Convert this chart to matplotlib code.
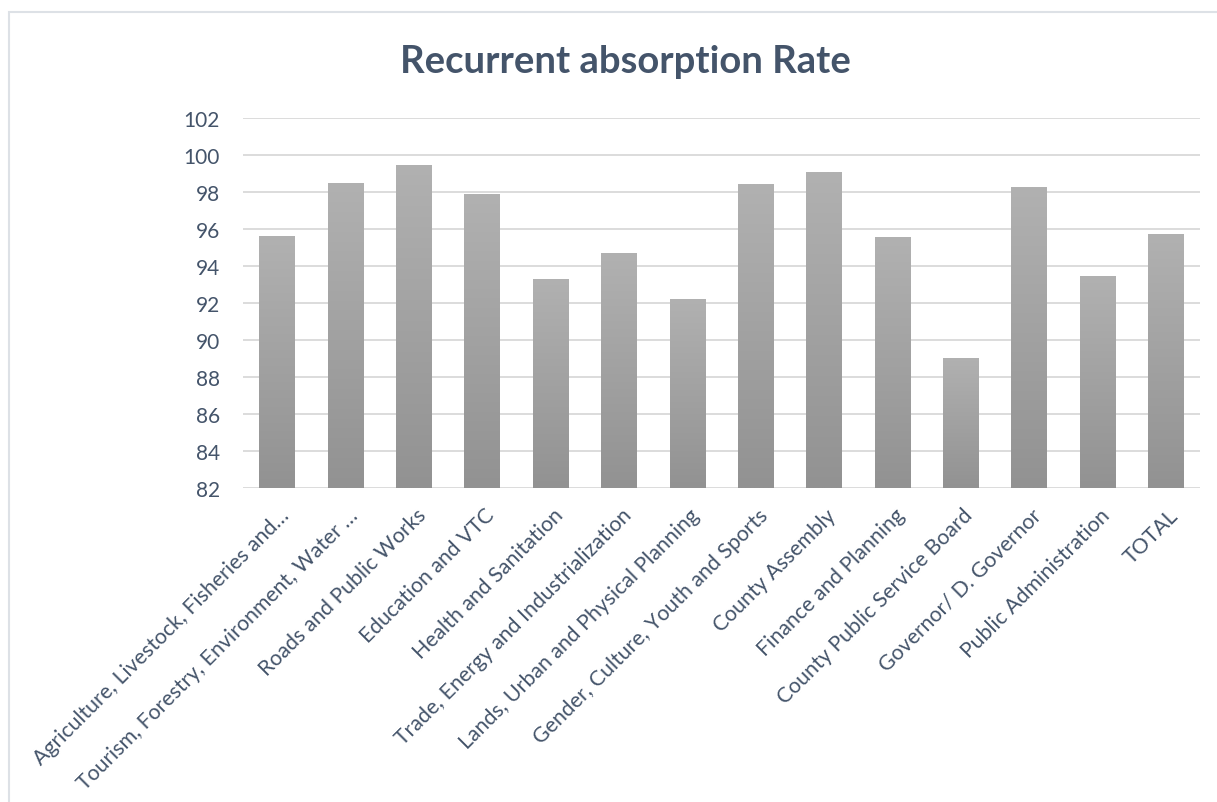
import matplotlib
matplotlib.use("Agg")
import matplotlib.pyplot as plt
import matplotlib.transforms as mtransforms
import numpy as np
from matplotlib.patches import Rectangle
from matplotlib.colors import LinearSegmentedColormap

categories = [
    "Agriculture, Livestock, Fisheries and…",
    "Tourism, Forestry, Environment, Water …",
    "Roads and Public Works",
    "Education and VTC",
    "Health and Sanitation",
    "Trade, Energy and Industrialization",
    "Lands, Urban and Physical Planning",
    "Gender, Culture, Youth and Sports",
    "County Assembly",
    "Finance and Planning",
    "County Public Service Board",
    "Governor/ D. Governor",
    "Public Administration",
    "TOTAL",
]
values = [95.62, 98.49, 99.46, 97.89, 93.30, 94.70, 92.24, 98.42, 99.07, 95.55, 89.05, 98.26, 93.44, 95.71]
yticks = [82, 84, 86, 88, 90, 92, 94, 96, 98, 100, 102]

text_color = "#44546A"
plt.rcParams['font.family'] = ['Lato', 'DejaVu Sans']

fig = plt.figure(figsize=(12.17, 8.03), dpi=100)
fig.patch.set_facecolor("white")
fig.add_artist(Rectangle((9 / 1217, -0.02), 1.1, 1 - 13 / 803 + 0.02, transform=fig.transFigure,
                         fill=False, edgecolor="#DDE1E6", linewidth=1.5))

ax = fig.add_axes([243 / 1217, 1 - 489 / 803, 957 / 1217, 370 / 803])
x = np.arange(len(categories))
bars = ax.bar(x, values, width=0.52, bottom=0, color="#A5A5A5", zorder=2)

grad = np.linspace(0, 1, 256).reshape(-1, 1)
cmap = LinearSegmentedColormap.from_list("g", ["#929292", "#B1B1B1"])
for b, v in zip(bars, values):
    x0 = b.get_x()
    w = b.get_width()
    im = ax.imshow(grad, extent=(x0, x0 + w, 82, v), origin="lower", aspect="auto",
                   cmap=cmap, zorder=3, interpolation="bilinear")
    im.set_clip_path(b)
ax.set_aspect("auto")
ax.set_xlim(-0.5, len(categories) - 0.5)
ax.set_ylim(82, 102)

ax.set_yticks(yticks)
ax.set_yticklabels([str(t) for t in yticks], fontsize=15, color=text_color)
ax.set_xticks(x)
ax.set_xticklabels(categories, rotation=45, ha="right", rotation_mode="anchor",
                   fontsize=15.3, color=text_color)
ax.tick_params(axis="both", length=0)
ax.tick_params(axis="y", pad=16.5)
ax.tick_params(axis="x", pad=12)
offset = mtransforms.ScaledTranslation(2 / 100, 0, fig.dpi_scale_trans)
for lab in ax.get_xticklabels():
    lab.set_transform(lab.get_transform() + offset)
ax.grid(axis="y", color="#D9D9D9", linewidth=1.3, zorder=0)
ax.set_axisbelow(True)
for s in ["top", "right", "left", "bottom"]:
    ax.spines[s].set_visible(False)

fig.text(625 / 1217, 1 - 73 / 803, "Recurrent absorption Rate", ha="center", va="baseline",
         fontsize=27.5, fontweight="bold", color=text_color)

fig.savefig("out.png", dpi=100, facecolor="white")
